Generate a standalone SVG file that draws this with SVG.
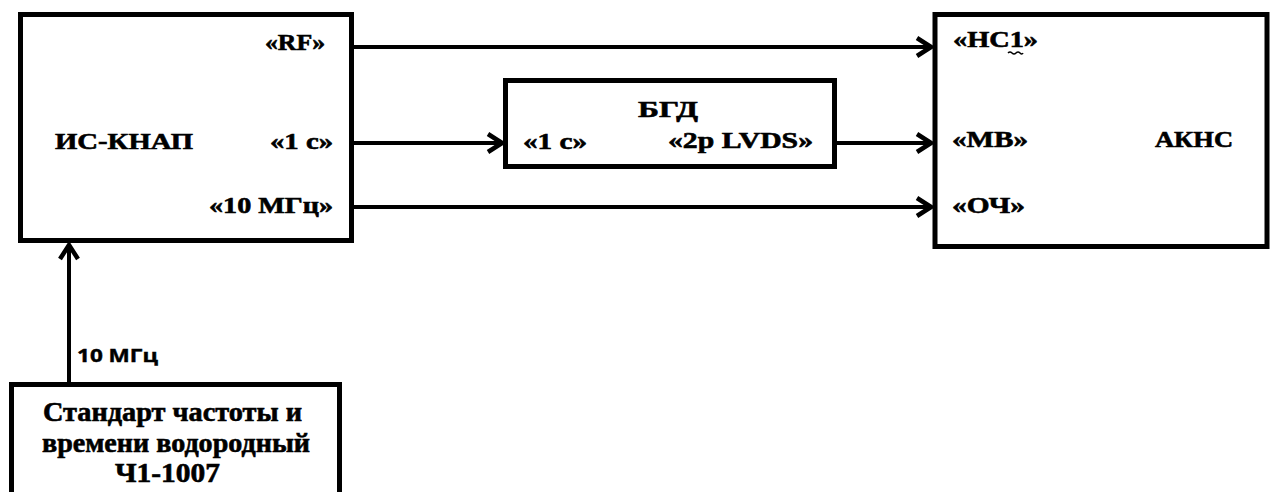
<svg xmlns="http://www.w3.org/2000/svg" width="1272" height="492" viewBox="0 0 1272 492">
  <style>
    .box { fill: #ffffff; stroke: #000000; stroke-width: 5; }
    .ln { stroke: #000000; stroke-width: 4; fill: none; }
    .t { font-family: "Liberation Serif", "Times New Roman", serif; font-weight: bold; font-size: 23px; fill: #000000; stroke: #000000; stroke-width: 0.6; }
    .tb { font-family: "Liberation Serif", "Times New Roman", serif; font-weight: bold; font-size: 27px; fill: #000000; stroke: #000000; stroke-width: 0.6; }
    .ts { font-family: "Open Sans", "DejaVu Sans", sans-serif; font-weight: bold; font-size: 17px; fill: #000000; stroke: #000000; stroke-width: 0.4; }
  </style>
  <defs>
    <marker id="chev" viewBox="0 0 18 22" refX="16" refY="11" markerWidth="18" markerHeight="22" markerUnits="userSpaceOnUse" orient="auto">
      <path d="M2,2 L16,11 L2,20" fill="none" stroke="#000000" stroke-width="4.5" stroke-linejoin="miter"/>
    </marker>
  </defs>
  <rect width="1272" height="492" fill="#ffffff"/>

  <g id="connectors">
    <line class="ln" x1="354" y1="47" x2="931" y2="47" marker-end="url(#chev)"/>
    <line class="ln" x1="354" y1="143" x2="502" y2="143" marker-end="url(#chev)"/>
    <line class="ln" x1="837" y1="143" x2="931" y2="143" marker-end="url(#chev)"/>
    <line class="ln" x1="354" y1="207" x2="931" y2="207" marker-end="url(#chev)"/>
    <line class="ln" x1="69" y1="384" x2="69" y2="245" marker-end="url(#chev)"/>
    <text class="ts" x="77" y="362" textLength="81" lengthAdjust="spacingAndGlyphs">10 МГц</text>
  </g>

  <g id="is-knap">
    <rect class="box" x="20.5" y="14.5" width="331" height="226"/>
    <text class="t" x="55" y="149" textLength="138" lengthAdjust="spacingAndGlyphs">ИС-КНАП</text>
    <text class="t" x="265" y="50" textLength="60" lengthAdjust="spacingAndGlyphs">«RF»</text>
    <text class="t" x="270" y="149" textLength="63" lengthAdjust="spacingAndGlyphs">«1 с»</text>
    <text class="t" x="209" y="213" textLength="124" lengthAdjust="spacingAndGlyphs">«10 МГц»</text>
  </g>

  <g id="bgd">
    <rect class="box" x="505.5" y="80.5" width="329" height="86"/>
    <text class="t" x="638" y="117" textLength="60" lengthAdjust="spacingAndGlyphs">БГД</text>
    <text class="t" x="523" y="149" textLength="64" lengthAdjust="spacingAndGlyphs">«1 с»</text>
    <text class="t" x="668" y="148" textLength="145" lengthAdjust="spacingAndGlyphs">«2р LVDS»</text>
  </g>

  <g id="akns">
    <rect class="box" x="935" y="14.5" width="332" height="232"/>
    <text class="t" x="953" y="47" textLength="85" lengthAdjust="spacingAndGlyphs">«НС1»</text>
    <path d="M1008,53 q2,-2 4,0 t4,0 t4,0 t3,0" fill="none" stroke="#000000" stroke-width="1.5"/>
    <text class="t" x="952" y="147" textLength="76" lengthAdjust="spacingAndGlyphs">«МВ»</text>
    <text class="t" x="1155" y="147" textLength="78" lengthAdjust="spacingAndGlyphs">АКНС</text>
    <text class="t" x="952" y="213" textLength="73" lengthAdjust="spacingAndGlyphs">«ОЧ»</text>
  </g>

  <g id="standard">
    <rect class="box" x="11.5" y="384.5" width="328" height="120"/>
    <text class="tb" x="43" y="421" textLength="259" lengthAdjust="spacingAndGlyphs">Стандарт частоты и</text>
    <text class="tb" x="42" y="452" textLength="268" lengthAdjust="spacingAndGlyphs">времени водородный</text>
    <text class="tb" x="115" y="482" textLength="105" lengthAdjust="spacingAndGlyphs">Ч1-1007</text>
  </g>
</svg>
